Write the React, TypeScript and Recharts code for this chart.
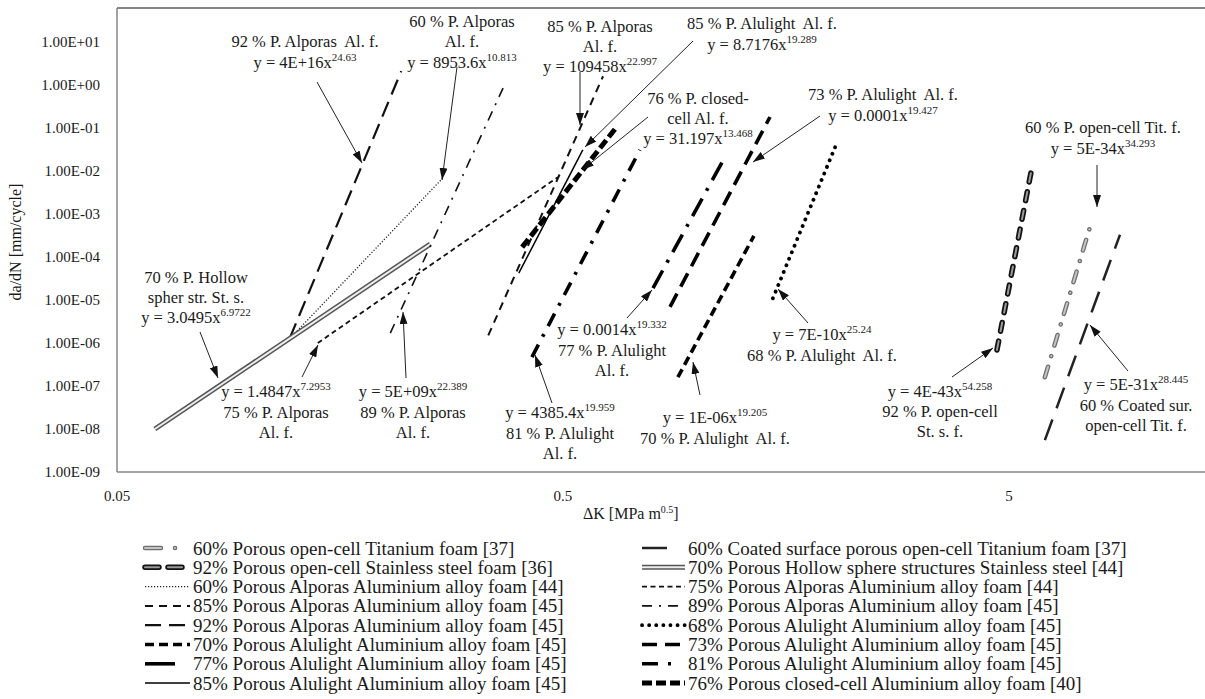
import React from 'react'
import { LineChart, Line, XAxis, YAxis, ReferenceLine } from 'recharts'

// Fatigue crack growth of porous metals: each series is a fitted straight line
// in log-log space, so two end points per series.
const seriesNames = [
  '60% Porous open-cell Titanium foam [37]',
  '92% Porous open-cell Stainless steel foam [36]',
  '60% Porous Alporas Aluminium alloy foam [44]',
  '85% Porous Alporas Aluminium alloy foam [45]',
  '92% Porous Alporas Aluminium alloy foam [45]',
  '70% Porous Alulight Aluminium alloy foam [45]',
  '77% Porous Alulight Aluminium alloy foam [45]',
  '85% Porous Alulight Aluminium alloy foam [45]',
  '60% Coated surface porous open-cell Titanium foam [37]',
  '70% Porous Hollow sphere structures Stainless steel [44]',
  '75% Porous Alporas Aluminium alloy foam [44]',
  '89% Porous Alporas Aluminium alloy foam [45]',
  '68% Porous Alulight Aluminium alloy foam [45]',
  '73% Porous Alulight Aluminium alloy foam [45]',
  '81% Porous Alulight Aluminium alloy foam [45]',
  '76% Porous closed-cell Aluminium alloy foam [40]',
]
const dkStart = [6.02, 4.70, 0.124, 0.34, 0.122, 0.905, 0.796, 0.398, 6.02, 0.0608, 0.141, 0.205, 1.478, 0.869, 0.426, 0.405]
const dkEnd = [7.68, 5.63, 0.269, 0.615, 0.217, 1.34, 1.154, 0.554, 8.87, 0.252, 0.487, 0.367, 2.06, 1.456, 0.744, 0.657]
const rateStart = [1.6e-7, 6.9e-7, 1.5e-6, 1.5e-6, 1.3e-6, 1.6e-7, 1.9e-5, 4.2e-5, 5.5e-9, 1.0e-8, 1.0e-6, 1.7e-6, 1.1e-5, 6.9e-6, 4.7e-7, 1.7e-4]
const rateEnd = [7.2e-4, 1.2e-2, 6.9e-3, 1.6, 2.1, 3.1e-4, 2.1e-2, 3.1e-2, 3.3e-4, 2.0e-4, 7.2e-3, 0.85, 4.7e-2, 0.18, 3.1e-2, 0.10]

const xTicks = [0.05, 0.5, 5]
const yTicks = [1e-9, 1e-8, 1e-7, 1e-6, 1e-5, 1e-4, 1e-3, 1e-2, 1e-1, 1e0, 1e1]
const X_DOMAIN = [0.05, 13.76]
const Y_DOMAIN = [1e-9, 61.8]

const FONT = "'Liberation Serif', 'DejaVu Serif', serif"
const AXIS_GREY = '#868686'

type Layer = { stroke: string; w: number; dash?: string; cap?: 'round' | 'butt' }
type Style = { layers: Layer[]; legendDash?: string }

// line look per series (same order as seriesNames)
const styles: Style[] = [
  { layers: [{ stroke: '#6e6e6e', w: 4.5, dash: '11 11 0.1 11', cap: 'round' }, { stroke: '#c4c4c4', w: 2, dash: '11 11 0.1 11', cap: 'round' }], legendDash: '16 14 0.1 40' },
  { layers: [{ stroke: '#111', w: 5.5, dash: '9 10', cap: 'round' }, { stroke: '#9a9a9a', w: 2, dash: '9 10', cap: 'round' }], legendDash: '14 9 14 40' },
  { layers: [{ stroke: '#222', w: 1.3, dash: '1.2 1.8' }] },
  { layers: [{ stroke: '#111', w: 2, dash: '8 6' }] },
  { layers: [{ stroke: '#111', w: 2.2, dash: '16 8' }] },
  { layers: [{ stroke: '#000', w: 3.6, dash: '9 5' }] },
  { layers: [{ stroke: '#000', w: 3.6, dash: '20 9 3 9' }], legendDash: '30 40' },
  { layers: [{ stroke: '#000', w: 1.5 }] },
  { layers: [{ stroke: '#222', w: 2.5, dash: '22 12' }], legendDash: '25 40' },
  { layers: [{ stroke: '#555', w: 5 }, { stroke: '#eee', w: 2 }] },
  { layers: [{ stroke: '#111', w: 1.8, dash: '5 3.5' }] },
  { layers: [{ stroke: '#111', w: 1.6, dash: '10 7 2 7' }] },
  { layers: [{ stroke: '#000', w: 3.8, dash: '0.1 7', cap: 'round' }] },
  { layers: [{ stroke: '#000', w: 3.6, dash: '15 8' }] },
  { layers: [{ stroke: '#000', w: 3.6, dash: '14 9 3 9' }], legendDash: '16 10 3 40' },
  { layers: [{ stroke: '#000', w: 5, dash: '10 4' }] },
]

const seriesData = seriesNames.map((_, i) => [
  { x: dkStart[i], y: rateStart[i] },
  { x: dkEnd[i], y: rateEnd[i] },
])

const fmtSci = (v: number) => {
  const e = Math.round(Math.log10(v))
  return `1.00E${e < 0 ? '-' : '+'}${String(Math.abs(e)).padStart(2, '0')}`
}

// annotation layout (page pixels): text lines [base, superscript?], arrow tail -> tip
type Note = { x: number; ys: number[]; lines: [string, string?][]; arrow: [number, number, number, number] }
const notes: Note[] = [
  { x: 305, ys: [41, 62], lines: [['92 % P. Alporas  Al. f.'], ['y = 4E+16x', '24.63']], arrow: [317, 82, 362, 163] },
  { x: 462, ys: [21, 41, 62], lines: [['60 % P. Alporas'], ['Al. f.'], ['y = 8953.6x', '10.813']], arrow: [457, 67, 442, 180] },
  { x: 600, ys: [26, 46, 66], lines: [['85 % P. Alporas'], ['Al. f.'], ['y = 109458x', '22.997']], arrow: [580, 72, 580, 125] },
  { x: 762, ys: [23, 44], lines: [['85 % P. Alulight  Al. f.'], ['y = 8.7176x', '19.289']], arrow: [693, 41, 585, 147] },
  { x: 698, ys: [98, 118, 138], lines: [['76 % P. closed-'], ['cell Al. f.'], ['y = 31.197x', '13.468']], arrow: [648, 117, 582, 170] },
  { x: 883, ys: [94, 115], lines: [['73 % P. Alulight  Al. f.'], ['y = 0.0001x', '19.427']], arrow: [820, 116, 753, 162] },
  { x: 1103, ys: [127, 148], lines: [['60 % P. open-cell Tit. f.'], ['y = 5E-34x', '34.293']], arrow: [1097, 165, 1097, 207] },
  { x: 196, ys: [277, 297, 317], lines: [['70 % P. Hollow'], ['spher str. St. s.'], ['y = 3.0495x', '6.9722']], arrow: [200, 332, 218, 378] },
  { x: 276, ys: [391, 412, 432], lines: [['y = 1.4847x', '7.2953'], ['75 % P. Alporas'], ['Al. f.']], arrow: [302, 377, 318, 345] },
  { x: 413, ys: [391, 412, 432], lines: [['y = 5E+09x', '22.389'], ['89 % P. Alporas'], ['Al. f.']], arrow: [406, 378, 403, 312] },
  { x: 560, ys: [412, 433, 453], lines: [['y = 4385.4x', '19.959'], ['81 % P. Alulight'], ['Al. f.']], arrow: [552, 403, 535, 355] },
  { x: 612, ys: [329, 350, 370], lines: [['y = 0.0014x', '19.332'], ['77 % P. Alulight'], ['Al. f.']], arrow: [627, 318, 652, 290] },
  { x: 715, ys: [417, 438], lines: [['y = 1E-06x', '19.205'], ['70 % P. Alulight  Al. f.']], arrow: [700, 395, 693, 362] },
  { x: 822, ys: [334, 355], lines: [['y = 7E-10x', '25.24'], ['68 % P. Alulight  Al. f.']], arrow: [808, 323, 778, 289] },
  { x: 940, ys: [391, 411, 431], lines: [['y = 4E-43x', '54.258'], ['92 % P. open-cell'], ['St. s. f.']], arrow: [952, 377, 993, 348] },
  { x: 1136, ys: [384, 405, 425], lines: [['y = 5E-31x', '28.445'], ['60 % Coated sur.'], ['open-cell Tit. f.']], arrow: [1128, 371, 1090, 325] },
]

const LEGEND_TOP = 548
const LEGEND_ROW = 19.3
const legendCols = [
  { sx: 145, ex: 190, tx: 193 },
  { sx: 642, ex: 685, tx: 688 },
]

const Overlay = () => (
  <svg width={1205} height={699} style={{ position: 'absolute', left: 0, top: 0, pointerEvents: 'none' }} fontFamily={FONT}>
    <defs>
      <marker id="arr" viewBox="0 0 12 8" refX={12} refY={4} markerWidth={12} markerHeight={8} markerUnits="userSpaceOnUse" orient="auto">
        <path d="M0,0 L12,4 L0,8 z" fill="#111" />
      </marker>
    </defs>

    {/* notes with fitted equations */}
    {notes.map((n, i) => (
      <g key={i}>
        <line x1={n.arrow[0]} y1={n.arrow[1]} x2={n.arrow[2]} y2={n.arrow[3]} stroke="#222" strokeWidth={1} markerEnd="url(#arr)" />
        {n.lines.map((ln, j) => (
          <text key={j} x={n.x} y={n.ys[j] + 6} textAnchor="middle" fontSize={16.5} fill="#1a1a1a" style={{ whiteSpace: 'pre' }}>
            {ln[0]}
            {ln[1] && <tspan fontSize={11} dy={-7}>{ln[1]}</tspan>}
          </text>
        ))}
      </g>
    ))}

    {/* axis titles */}
    <text transform="translate(21,242) rotate(-90)" textAnchor="middle" fontSize={16} fill="#1a1a1a">da/dN [mm/cycle]</text>
    <text x={583} y={519} fontSize={16} fill="#1a1a1a">
      ΔK [MPa m<tspan fontSize={10} dy={-6}>0.5</tspan><tspan dy={6}>]</tspan>
    </text>

    {/* legend: two columns of eight */}
    {seriesNames.map((name, i) => {
      const col = legendCols[i < 8 ? 0 : 1]
      const y = LEGEND_TOP + (i % 8) * LEGEND_ROW
      const st = styles[i]
      return (
        <g key={name}>
          {st.layers.map((l, j) => (
            <line key={j} x1={col.sx} x2={col.ex} y1={y} y2={y} stroke={l.stroke} strokeWidth={l.w}
              strokeDasharray={st.legendDash ?? l.dash} strokeLinecap={l.cap ?? 'butt'} />
          ))}
          <text x={col.tx} y={y + 6.5} fontSize={19} fill="#1a1a1a">{name}</text>
        </g>
      )
    })}
  </svg>
)

export default function App() {
  return (
    <div style={{ position: 'absolute', left: 0, top: 0, width: 1205, height: 699, background: '#fff', fontFamily: FONT }}>
      <LineChart width={1205} height={699} margin={{ top: 8, right: 0, bottom: 197, left: 0 }}>
        <XAxis
          type="number"
          dataKey="x"
          scale="log"
          domain={X_DOMAIN}
          allowDataOverflow
          ticks={xTicks}
          interval={0}
          tickFormatter={v => String(v)}
          tick={{ fontSize: 15, fill: '#1a1a1a', fontFamily: FONT }}
          tickLine={false}
          tickSize={0}
          tickMargin={18}
          axisLine={{ stroke: AXIS_GREY, strokeWidth: 1.5 }}
          height={30}
        />
        <YAxis
          type="number"
          scale="log"
          domain={Y_DOMAIN}
          allowDataOverflow
          ticks={yTicks}
          interval={0}
          tickFormatter={fmtSci}
          tick={{ fontSize: 15, fill: '#1a1a1a', fontFamily: FONT }}
          tickLine={false}
          tickSize={0}
          tickMargin={17}
          axisLine={{ stroke: AXIS_GREY, strokeWidth: 1.5 }}
          width={117}
        />
        <ReferenceLine y={Y_DOMAIN[1]} stroke={AXIS_GREY} strokeWidth={2} />
        {seriesData.map((pts, i) =>
          styles[i].layers.map((l, j) => (
            <Line
              key={`${i}-${j}`}
              data={pts}
              dataKey="y"
              type="linear"
              stroke={l.stroke}
              strokeWidth={l.w}
              strokeDasharray={l.dash}
              strokeLinecap={l.cap ?? 'butt'}
              dot={false}
              activeDot={false}
              legendType="none"
              isAnimationActive={false}
            />
          ))
        )}
      </LineChart>
      <Overlay />
    </div>
  )
}
